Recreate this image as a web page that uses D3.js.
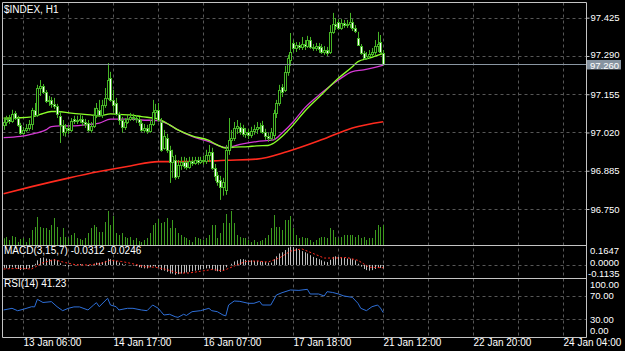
<!DOCTYPE html>
<html><head><meta charset="utf-8">
<script src="https://cdn.jsdelivr.net/npm/d3@7"></script>
<style>html,body{margin:0;padding:0;background:#000;overflow:hidden}</style>
</head><body>
<svg id="c" width="625" height="351"></svg>
<script>
// ---------- DATA ----------
const symbol = "$INDEX, H1";
const open = [97.047,97.057,97.068,97.061,97.089,97.071,97.047,97.019,97.029,97.036,
97.050,97.100,97.082,97.177,97.184,97.163,97.131,97.135,97.121,97.114,
97.079,97.047,97.022,97.036,97.029,97.068,97.061,97.064,97.068,97.057,
97.054,97.029,97.043,97.082,97.100,97.082,97.117,97.142,97.212,97.135,
97.124,97.086,97.064,97.040,97.057,97.068,97.075,97.071,97.068,97.054,
97.029,97.036,97.026,97.050,97.093,97.100,97.057,96.966,97.001,96.959,
96.916,96.923,96.867,96.906,96.916,96.916,96.899,96.920,96.913,96.923,
96.916,96.923,96.920,96.941,96.952,96.895,96.871,96.853,96.828,96.818,
96.959,96.994,97.001,97.036,97.040,97.036,97.015,97.022,97.012,97.026,
97.033,97.040,97.047,97.022,97.008,97.001,97.012,97.089,97.124,97.181,
97.170,97.234,97.276,97.336,97.318,97.329,97.322,97.332,97.325,97.346,
97.322,97.318,97.325,97.322,97.304,97.311,97.304,97.375,97.403,97.410,
97.389,97.406,97.399,97.403,97.410,97.389,97.353,97.325,97.301,97.283,
97.290,97.297,97.304,97.325,97.339,97.301];
const high = [97.071,97.079,97.082,97.100,97.096,97.079,97.054,97.040,97.050,97.064,
97.107,97.124,97.188,97.205,97.191,97.170,97.149,97.145,97.142,97.121,
97.093,97.064,97.050,97.047,97.071,97.079,97.079,97.082,97.079,97.068,
97.064,97.057,97.107,97.124,97.135,97.135,97.177,97.265,97.234,97.170,
97.142,97.093,97.075,97.071,97.082,97.089,97.086,97.082,97.075,97.064,
97.050,97.047,97.064,97.135,97.121,97.124,97.071,97.029,97.015,96.973,
96.959,96.941,96.923,96.934,96.934,96.930,96.934,96.934,96.934,96.934,
96.934,96.938,96.959,96.976,96.966,96.909,96.881,96.867,96.860,96.976,
97.071,97.029,97.057,97.064,97.054,97.047,97.036,97.033,97.040,97.047,
97.057,97.054,97.061,97.033,97.019,97.036,97.100,97.135,97.188,97.191,
97.255,97.294,97.371,97.346,97.339,97.339,97.357,97.346,97.361,97.357,
97.332,97.336,97.336,97.332,97.325,97.322,97.399,97.442,97.424,97.420,
97.420,97.417,97.417,97.442,97.420,97.399,97.375,97.332,97.308,97.304,
97.311,97.318,97.346,97.375,97.364,97.311];
const low = [97.029,97.043,97.050,97.054,97.064,97.040,97.012,97.012,97.022,97.026,
97.029,97.075,97.075,97.149,97.156,97.124,97.114,97.107,97.103,97.071,
96.983,97.008,97.005,97.015,97.022,97.050,97.050,97.054,97.043,97.036,
97.022,97.019,97.036,97.071,97.075,97.071,97.107,97.135,97.128,97.093,
97.079,97.047,97.019,97.029,97.050,97.061,97.061,97.054,97.043,97.022,
97.019,97.015,97.019,97.043,97.071,97.057,96.952,96.959,96.948,96.842,
96.860,96.853,96.856,96.888,96.892,96.888,96.892,96.902,96.906,96.906,
96.909,96.906,96.909,96.916,96.888,96.849,96.832,96.782,96.797,96.800,
96.941,96.966,96.990,97.015,97.012,97.005,97.001,96.997,97.001,97.012,
97.015,97.019,97.015,96.994,96.987,96.990,96.994,97.071,97.114,97.145,
97.163,97.220,97.255,97.304,97.304,97.311,97.311,97.311,97.318,97.315,
97.308,97.308,97.301,97.297,97.294,97.290,97.297,97.368,97.382,97.382,
97.382,97.389,97.389,97.389,97.378,97.371,97.325,97.294,97.276,97.276,
97.279,97.286,97.294,97.304,97.297,97.255];
const close = [97.057,97.068,97.061,97.086,97.071,97.047,97.019,97.029,97.036,97.050,
97.100,97.082,97.177,97.184,97.163,97.131,97.135,97.121,97.114,97.086,
97.047,97.022,97.036,97.029,97.061,97.061,97.064,97.068,97.057,97.050,
97.029,97.043,97.082,97.107,97.082,97.117,97.142,97.205,97.135,97.117,
97.086,97.064,97.040,97.057,97.068,97.075,97.071,97.068,97.057,97.029,
97.036,97.026,97.050,97.093,97.100,97.064,96.959,97.008,96.959,96.916,
96.938,96.864,96.906,96.916,96.902,96.899,96.920,96.913,96.923,96.916,
96.923,96.920,96.941,96.952,96.895,96.867,96.846,96.828,96.846,96.959,
96.994,97.001,97.036,97.043,97.022,97.015,97.022,97.012,97.026,97.033,
97.040,97.036,97.022,97.008,97.001,97.022,97.089,97.124,97.170,97.163,
97.234,97.283,97.304,97.318,97.329,97.322,97.332,97.325,97.346,97.322,
97.318,97.325,97.315,97.304,97.311,97.301,97.375,97.403,97.396,97.389,
97.406,97.399,97.403,97.410,97.389,97.378,97.329,97.301,97.283,97.290,
97.297,97.304,97.325,97.332,97.304,97.260];
const volume = [670,800,500,900,800,300,600,700,300,700,
1500,1800,2800,1800,1700,1700,1500,2000,2700,1800,
800,1700,800,700,1000,1200,700,600,500,700,
1200,1700,2000,1800,1300,1300,2300,3400,2000,2900,
1200,1000,1200,800,700,800,500,700,400,300,
500,700,1200,2000,2200,2600,2200,2300,2700,1700,
2500,1700,1200,1000,800,700,500,300,800,700,
600,500,700,1000,2000,2000,700,1200,2200,3100,
2200,3400,2200,1000,800,700,700,500,300,500,
300,400,500,700,1000,1700,3000,1800,1800,1500,
2500,2500,2900,1700,1000,700,800,700,700,500,
300,500,700,800,800,700,1700,1500,800,700,
800,1000,1000,1000,1000,800,1000,700,800,500,
700,700,1500,2000,1800,2000];

// moving averages, read at selected bars
const maFastIdx = [0,6,10,13,17,19,24,31,34,38,41,45,49,55,59,62,67,73,76,79,82,87,90,94,96,99,103,107,113,119,124,126,130,135];
const maFast    = [97.071,97.072,97.075,97.084,97.094,97.094,97.088,97.082,97.079,97.086,97.084,97.082,97.076,97.067,97.047,97.029,97.008,96.992,96.976,96.965,96.968,96.970,96.973,96.974,96.982,97.006,97.047,97.094,97.153,97.211,97.252,97.270,97.282,97.299];
const maMidIdx = [0,6,10,15,17,20,24,31,34,38,41,45,49,55,59,62,67,73,79,85,90,96,99,103,107,113,119,124,128,135];
const maMid    = [97.002,97.006,97.014,97.029,97.041,97.043,97.043,97.049,97.053,97.067,97.067,97.067,97.064,97.062,97.047,97.029,97.006,96.988,96.967,96.980,96.988,96.994,97.018,97.058,97.106,97.159,97.205,97.235,97.241,97.258];
const maSlowIdx = [0,10,23,34,45,55,67,79,90,101,113,124,135];
const maSlow    = [96.804,96.829,96.859,96.882,96.902,96.917,96.917,96.922,96.926,96.953,96.994,97.036,97.058];

// MACD(3,15,7)
const macdMain = [-0.025,-0.03,-0.03,-0.02,-0.025,-0.035,-0.045,-0.04,-0.035,-0.03,
-0.02,0.01,0.04,0.06,0.065,0.055,0.05,0.045,0.05,0.04,
0.015,0.0,-0.01,-0.015,-0.005,0.0,0.005,0.008,0.005,0.0,
-0.01,-0.005,0.01,0.02,0.02,0.025,0.035,0.055,0.05,0.045,
0.035,0.02,0.01,0.005,0.0,0.0,-0.005,-0.01,-0.02,-0.025,
-0.03,-0.03,-0.02,-0.01,-0.015,-0.02,-0.045,-0.05,-0.06,-0.075,
-0.075,-0.085,-0.08,-0.075,-0.07,-0.065,-0.06,-0.055,-0.05,-0.045,
-0.04,-0.035,-0.03,-0.03,-0.04,-0.05,-0.055,-0.06,-0.05,-0.02,
0.0,0.01,0.03,0.04,0.05,0.05,0.045,0.04,0.04,0.035,
0.035,0.03,0.03,0.025,0.02,0.02,0.05,0.075,0.1,0.11,
0.13,0.15,0.16,0.155,0.145,0.13,0.12,0.11,0.1,0.085,
0.07,0.06,0.05,0.04,0.03,0.025,0.045,0.07,0.075,0.07,
0.065,0.06,0.055,0.055,0.05,0.04,0.01,-0.015,-0.035,-0.045,
-0.05,-0.045,-0.035,-0.025,-0.025,-0.0312];
const macdSigIdx = [0,5,10,14,18,22,26,30,34,38,42,46,50,54,58,62,66,70,74,78,82,86,90,94,98,102,106,110,114,118,122,126,130,135];
const macdSig    = [-0.035,-0.03,-0.035,0.02,0.045,0.02,0.0,0.0,0.01,0.04,0.03,0.01,-0.015,-0.02,-0.04,-0.07,-0.07,-0.055,-0.04,-0.05,-0.01,0.03,0.035,0.025,0.06,0.12,0.14,0.1,0.06,0.06,0.065,0.04,-0.02,-0.0246];
const macdLabels = ["0.1647","0.0000","-0.1135"];

// RSI(14), read at selected bars
const rsiIdx = [0,3,5,7,10,11,12,14,17,19,21,23,25,27,30,32,33,34,37,38,40,41,44,46,49,51,53,55,56,57,59,61,62,64,65,67,70,73,74,76,78,79,80,82,84,87,89,91,92,95,97,99,102,105,108,109,112,114,115,117,119,121,124,126,127,129,131,133,134,135];
const rsiVal = [45.8,48.6,44.5,47,51.4,51,63.9,58.5,59.9,51.4,44.6,48.6,51,51,45.8,54.2,58.2,51.4,65.6,54.2,51.4,45.8,48.6,48.6,45.8,44.6,54.2,48.6,42.9,37.3,38.5,34.4,33.3,38.5,36.5,42.9,44.6,48.6,44.6,42.9,37.3,35.9,54.2,61.0,60.4,57.1,57.1,60.4,54.2,54.2,71.2,75.1,79.7,79.0,80.8,72.9,72.9,69.5,76.8,75.5,73,69.5,67.2,57.1,48.6,44.6,51.4,54.2,49,41.23];

const priceTicks = [97.425,97.290,97.155,97.020,96.885,96.750];
const rsiTicks = [100,70,30,0];
const timeTickIdx = [7,39,71,103,135,167,199];
const timeTickLabels = ["13 Jan 06:00","14 Jan 17:00","16 Jan 07:00","17 Jan 18:00","21 Jan 12:00","22 Jan 20:00","24 Jan 04:00"];
const gridIdx = d3.range(7, 200, 16);

// ---------- LAYOUT ----------
const L = 2.5, R = 586.5, T = 2.5, mainB = 245.5, macdB = 278.5, rsiB = 337.5;
const font = "'Liberation Sans', Arial, sans-serif";
const gridCol = "#575757", borderCol = "#c4c4c4", txtCol = "#ffffff";
const candleCol = "#46b526", volCol = "#3c9a1e";

const svg = d3.select("#c");
svg.append("rect").attr("width",625).attr("height",351).attr("fill","#000");

const x = d3.scaleLinear().domain([0,199]).range([3.6,563.3]);
const px = i => Math.round(x(i));
const yP = d3.scaleLinear().domain([96.750,97.425]).range([209,17.7]);
const yV = d3.scaleLinear().domain([0,3500]).range([245,210]);
const yM = d3.scaleLinear().domain([-0.1135,0.1647]).range([278,246]);
const yR = d3.scaleLinear().domain([0,100]).range([337,278]);
const crisp = v => Math.round(v) + 0.5;

// grids
const g = svg.append("g");
g.selectAll(".vg").data(gridIdx).join("line")
  .attr("x1", d => px(d)+0.5).attr("x2", d => px(d)+0.5)
  .attr("y1", T).attr("y2", rsiB)
  .attr("stroke", gridCol).attr("stroke-dasharray","3,3");
g.selectAll(".hg").data(priceTicks).join("line")
  .attr("x1", L).attr("x2", R).attr("y1", d => crisp(yP(d))).attr("y2", d => crisp(yP(d)))
  .attr("stroke", gridCol).attr("stroke-dasharray","3,3");
g.append("line").attr("x1",L).attr("x2",R).attr("y1",crisp(yM(0))).attr("y2",crisp(yM(0)))
  .attr("stroke", gridCol).attr("stroke-dasharray","3,3");
g.selectAll(".rg").data([70,30]).join("line")
  .attr("x1", L).attr("x2", R).attr("y1", d => crisp(yR(d))).attr("y2", d => crisp(yR(d)))
  .attr("stroke", gridCol).attr("stroke-dasharray","3,3");

// volume
svg.append("g").selectAll("line").data(volume).join("line")
  .attr("x1",(d,i)=>px(i)+0.5).attr("x2",(d,i)=>px(i)+0.5)
  .attr("y1", yV(0)).attr("y2", d => yV(d))
  .attr("stroke", volCol).attr("stroke-width",1);

// moving averages
const line = d3.line().curve(d3.curveMonotoneX);
function drawMA(idx, vals, col, w) {
  svg.append("path").attr("d", line(idx.map((k,j)=>[x(k), yP(vals[j])])))
    .attr("fill","none").attr("stroke",col).attr("stroke-width",w);
}
drawMA(maSlowIdx, maSlow, "#ff2a1e", 1.6);
drawMA(maMidIdx, maMid, "#d43ad4", 1.3);
drawMA(maFastIdx, maFast, "#8cff2a", 1.3);

// candles
const cg = svg.append("g");
close.forEach((c,i) => {
  const cx = px(i);
  cg.append("line").attr("x1",cx+0.5).attr("x2",cx+0.5)
    .attr("y1", yP(high[i])).attr("y2", yP(low[i]))
    .attr("stroke", candleCol).attr("stroke-width",1);
  const top = Math.round(yP(Math.max(open[i],c)));
  const bot = Math.round(yP(Math.min(open[i],c)));
  cg.append("rect").attr("x", cx-0.5).attr("width",2)
    .attr("y", top+0.5).attr("height", Math.max(bot-top,0.5))
    .attr("fill", c >= open[i] ? "#000" : "#ffffff")
    .attr("stroke", candleCol).attr("stroke-width",1);
});

// current price line
const last = close[close.length-1];
svg.append("line").attr("x1",L).attr("x2",R).attr("y1",crisp(yP(last))).attr("y2",crisp(yP(last)))
  .attr("stroke","#8a96a2").attr("stroke-width",1);

// MACD histogram + signal
svg.append("g").selectAll("line").data(macdMain).join("line")
  .attr("x1",(d,i)=>px(i)+0.5).attr("x2",(d,i)=>px(i)+0.5)
  .attr("y1", yM(0)).attr("y2", d => yM(d))
  .attr("stroke","#bdbdbd").attr("stroke-width",1);
svg.append("path").attr("d", d3.line()(macdSigIdx.map((k,j)=>[x(k), yM(macdSig[j])])))
  .attr("fill","none").attr("stroke","#ff2a1e").attr("stroke-width",1).attr("stroke-dasharray","2,2");

// RSI
svg.append("path").attr("d", d3.line()(rsiIdx.map((k,j)=>[x(k), yR(rsiVal[j])])))
  .attr("fill","none").attr("stroke","#2e6fd8").attr("stroke-width",1);

// borders
const b = svg.append("g").attr("stroke", borderCol).attr("stroke-width",1);
b.append("line").attr("x1",L).attr("x2",R).attr("y1",T).attr("y2",T);
b.append("line").attr("x1",L).attr("x2",L).attr("y1",T).attr("y2",rsiB);
b.append("line").attr("x1",R).attr("x2",R).attr("y1",T).attr("y2",rsiB);
[mainB, macdB, rsiB].forEach(yy => b.append("line").attr("x1",L).attr("x2",R).attr("y1",yy).attr("y2",yy));

// price axis
const pa = svg.append("g").attr("transform",`translate(${R},0)`)
  .call(d3.axisRight(yP).tickValues(priceTicks).tickFormat(d3.format(".3f")).tickSize(3).tickPadding(1));
pa.select(".domain").remove();
pa.selectAll("line").attr("stroke", borderCol);
pa.selectAll("text").attr("fill", txtCol).style("font-family", font).style("font-size","9.5px")
  .attr("y", d => d === 97.290 ? -1.5 : 0);

// current price tag
const ly = yP(last);
svg.append("rect").attr("x",587).attr("y",ly-4.5).attr("width",34).attr("height",9.5).attr("fill","#8794a1");
svg.append("text").attr("x",590).attr("y",ly+1.5).attr("dy","0.35em").text(d3.format(".3f")(last))
  .attr("fill","#fff").style("font-family",font).style("font-size","9.5px");

// MACD & RSI labels
const smallTxt = (t, xx, yy, fs) => svg.append("text").attr("x",xx).attr("y",yy).attr("dy","0.35em").text(t)
  .attr("fill", txtCol).style("font-family",font).style("font-size", fs || "10px");
smallTxt(macdLabels[0], 590, yM(0.1647)+5, "9.5px");
smallTxt(macdLabels[1], 590, yM(0)-1.8, "9.5px");
smallTxt(macdLabels[2], 588, yM(-0.1135)-4, "9.5px");
rsiTicks.forEach(v => {
  let yy = yR(v);
  if (v === 100) yy += 7;
  if (v === 0) yy -= 6;
  smallTxt(d3.format(".2f")(v), 590, yy, "9.5px");
});

// titles
smallTxt(symbol, 4, 9.5);
smallTxt(`MACD(3,15,7) ${d3.format(".4f")(macdMain[macdMain.length-1])} ${d3.format(".4f")(macdSig[macdSig.length-1])}`.replace(/−/g,"-"), 4, 250.8);
smallTxt(`RSI(14) ${d3.format(".2f")(rsiVal[rsiVal.length-1])}`, 4, 283.5);

// time axis
const ta = svg.append("g").attr("transform",`translate(0,${rsiB})`)
  .call(d3.axisBottom(x).tickValues(timeTickIdx).tickFormat((d,i)=>timeTickLabels[i]).tickSize(0).tickPadding(1));
ta.select(".domain").remove();
ta.selectAll(".tick").attr("transform", d => `translate(${px(d)+0.5},0)`);
ta.selectAll("text").attr("fill", txtCol).attr("text-anchor","start").style("font-family",font).style("font-size","10px");
</script></body></html>
